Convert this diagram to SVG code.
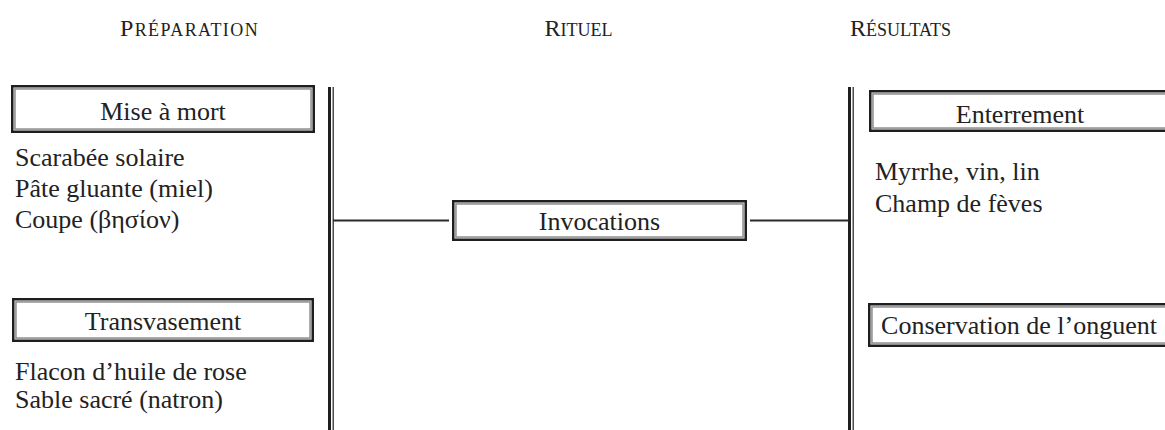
<svg xmlns="http://www.w3.org/2000/svg" width="1165" height="430" viewBox="0 0 1165 430">
  <style>
    .bg { fill: #ffffff; }
    .hdr { font-family: "Liberation Serif", "DejaVu Serif", serif; fill: #222222; text-anchor: middle; }
    .big { font-size: 24px; }
    .sc { font-size: 18px; }
    .lbl { font-family: "Liberation Serif", "DejaVu Serif", serif; font-size: 26px; fill: #222222; text-anchor: middle; }
    .item { font-family: "Liberation Serif", "DejaVu Serif", serif; font-size: 26px; fill: #222222; }
    .fo { fill: #d2d2d2; stroke: #1e1e1e; stroke-width: 2.4; }
    .fi { fill: #ffffff; stroke: #8a8a8a; stroke-width: 1.4; }
    .bar { stroke: #1e1e1e; stroke-width: 3; fill: none; }
    .bar2 { stroke: #1e1e1e; stroke-width: 1.2; fill: none; }
    .link { stroke: #2a2a2a; stroke-width: 2; fill: none; }
  </style>
  <rect class="bg" x="0" y="0" width="1165" height="430"/>

  <g id="headers">
    <text class="hdr" x="189.5" y="36" letter-spacing="1.4"><tspan class="big">P</tspan><tspan class="sc">RÉPARATION</tspan></text>
    <text class="hdr" x="578.5" y="36"><tspan class="big">R</tspan><tspan class="sc">ITUEL</tspan></text>
    <text class="hdr" x="900.5" y="36"><tspan class="big">R</tspan><tspan class="sc">ÉSULTATS</tspan></text>
  </g>

  <g id="connectors">
    <line class="bar" x1="329.5" y1="87" x2="329.5" y2="430"/>
    <line class="bar2" x1="333.2" y1="87" x2="333.2" y2="430"/>
    <line class="bar" x1="849.5" y1="87" x2="849.5" y2="430"/>
    <line class="bar2" x1="853.2" y1="87" x2="853.2" y2="430"/>
    <line class="link" x1="333" y1="220.5" x2="449" y2="220.5"/>
    <line class="link" x1="750" y1="220.5" x2="849" y2="220.5"/>
  </g>

  <g id="node-mise-a-mort">
    <rect class="fo" x="12.2" y="86.2" width="301.6" height="45.6"/>
    <rect class="fi" x="15" y="89" width="296" height="40"/>
    <text class="lbl" x="163" y="120">Mise à mort</text>
    <text class="item" x="15" y="166">Scarabée solaire</text>
    <text class="item" x="15" y="197">Pâte gluante (miel)</text>
    <text class="item" x="15" y="228">Coupe (βησίον)</text>
  </g>

  <g id="node-transvasement">
    <rect class="fo" x="13.2" y="299.2" width="299.6" height="41.6"/>
    <rect class="fi" x="16" y="302" width="294" height="36"/>
    <text class="lbl" x="163" y="330">Transvasement</text>
    <text class="item" x="15" y="380">Flacon d’huile de rose</text>
    <text class="item" x="15" y="408">Sable sacré (natron)</text>
  </g>

  <g id="node-invocations">
    <rect class="fo" x="453.2" y="201.2" width="292.6" height="38.6"/>
    <rect class="fi" x="456" y="204" width="287" height="33"/>
    <text class="lbl" x="599.5" y="230">Invocations</text>
  </g>

  <g id="node-enterrement">
    <rect class="fo" x="870.2" y="91.2" width="303.6" height="39.6"/>
    <rect class="fi" x="873" y="94" width="298" height="34"/>
    <text class="lbl" x="1020" y="123">Enterrement</text>
    <text class="item" x="875" y="180">Myrrhe, vin, lin</text>
    <text class="item" x="875" y="212">Champ de fèves</text>
  </g>

  <g id="node-conservation">
    <rect class="fo" x="869.2" y="304.2" width="304.6" height="41.6"/>
    <rect class="fi" x="872" y="307" width="299" height="36"/>
    <text class="lbl" x="1019" y="334">Conservation de l’onguent</text>
  </g>
</svg>
